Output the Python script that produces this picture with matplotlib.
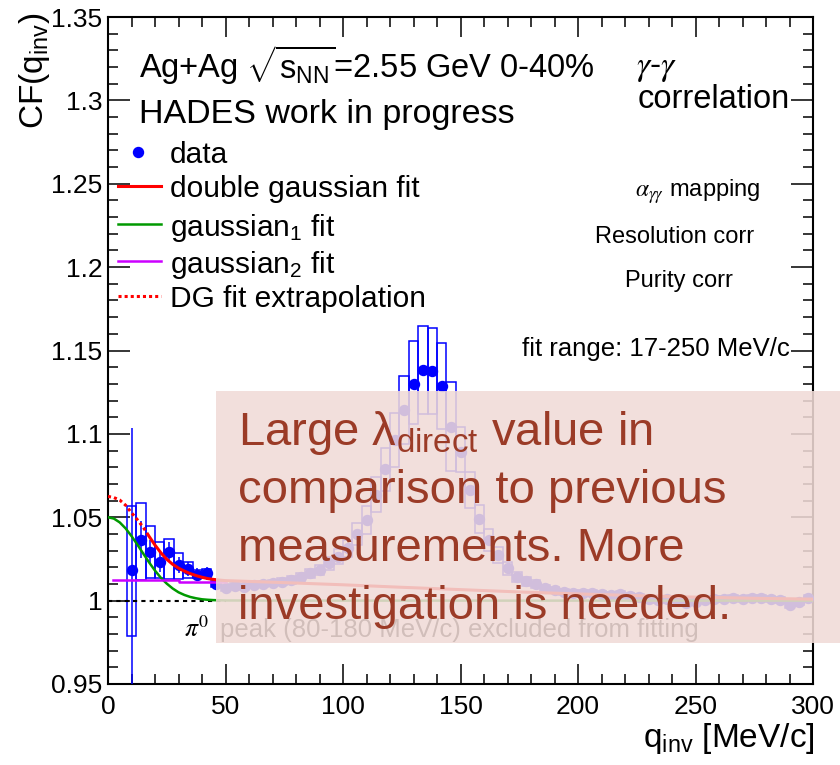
import numpy as np
import matplotlib.pyplot as plt
from matplotlib.patches import Rectangle
from matplotlib.ticker import MultipleLocator

plt.rcParams['font.family'] = 'Liberation Sans'
plt.rcParams['mathtext.fontset'] = 'custom'
plt.rcParams['mathtext.rm'] = 'Liberation Sans'
plt.rcParams['mathtext.it'] = 'Liberation Sans:italic'
plt.rcParams['mathtext.bf'] = 'Liberation Sans:bold'

# bin centres [MeV/c]
q = np.array([10, 14, 18, 22, 26, 30, 34, 38, 42, 46,
              50, 54, 58, 62, 66, 70, 74, 78, 82, 86,
              90, 94, 98, 102, 106, 110, 114, 118, 122, 126,
              130, 134, 138, 142, 146, 150, 154, 158, 162, 166,
              170, 174, 178, 182, 186, 190, 194, 198, 202, 206,
              210, 214, 218, 222, 226, 230, 234, 238, 242, 246,
              250, 254, 258, 262, 266, 270, 274, 278, 282, 286,
              290, 294, 298])

# correlation function values
cf = np.array([1.0186, 1.0366, 1.0293, 1.0233, 1.0293, 1.0214, 1.0190, 1.0156, 1.0164, 1.0100,
               1.0078, 1.0085, 1.0082, 1.0092, 1.0098, 1.0105, 1.0113, 1.0124, 1.0143, 1.0164,
               1.0184, 1.0224, 1.0263, 1.0314, 1.0400, 1.0484, 1.0634, 1.0788, 1.0964, 1.1143,
               1.1302, 1.1384, 1.1378, 1.1285, 1.1043, 1.0893, 1.0664, 1.0488, 1.0364, 1.0273,
               1.0194, 1.0143, 1.0115, 1.0100, 1.0074, 1.0062, 1.0054, 1.0048, 1.0045, 1.0045,
               1.0038, 1.0035, 1.0042, 1.0030, 1.0022, 1.0012, 1.0006, 1.0008, 1.0002, 0.9988,
               0.9992, 1.0005, 1.0010, 1.0012, 1.0016, 1.0012, 1.0018, 1.0014, 1.0010, 1.0002,
               0.9976, 0.9990, 1.0014])

# statistical errors
stat = np.array([0.085, 0.011, 0.007, 0.006, 0.006, 0.005, 0.004, 0.004, 0.004, 0.003,
                 0.003, 0.003, 0.003, 0.003, 0.003, 0.003, 0.003, 0.003, 0.003, 0.003,
                 0.003, 0.003, 0.003, 0.003, 0.003, 0.003, 0.003, 0.003, 0.003, 0.003,
                 0.003, 0.003, 0.003, 0.003, 0.003, 0.003, 0.003, 0.003, 0.003, 0.003,
                 0.002, 0.002, 0.002, 0.002, 0.002, 0.002, 0.002, 0.002, 0.002, 0.002,
                 0.002, 0.002, 0.002, 0.002, 0.002, 0.002, 0.002, 0.002, 0.002, 0.002,
                 0.002, 0.002, 0.002, 0.002, 0.002, 0.002, 0.002, 0.002, 0.002, 0.002,
                 0.002, 0.002, 0.002])

# systematic errors (box below / above the point)
sys_dn = np.array([0.0398, 0.0242, 0.0159, 0.0099, 0.0163, 0.0082, 0.0055, 0.0021, 0.0029, 0.0020,
                   0.0018, 0.0018, 0.0018, 0.0019, 0.0019, 0.0020, 0.0021, 0.0022, 0.0025, 0.0028,
                   0.0032, 0.0038, 0.0045, 0.0052, 0.0068, 0.0082, 0.0105, 0.0130, 0.0160, 0.0205,
                   0.0245, 0.0262, 0.0258, 0.0255, 0.0265, 0.0120, 0.0110, 0.0085, 0.0065, 0.0050,
                   0.0040, 0.0030, 0.0025, 0.0022, 0.0020, 0.0018, 0.0018, 0.0018, 0.0018, 0.0018,
                   0.0018, 0.0018, 0.0018, 0.0018, 0.0018, 0.0018, 0.0018, 0.0018, 0.0018, 0.0018,
                   0.0018, 0.0018, 0.0018, 0.0018, 0.0018, 0.0018, 0.0018, 0.0018, 0.0018, 0.0018,
                   0.0018, 0.0018, 0.0018])
sys_up = np.array([0.0384, 0.0221, 0.0157, 0.0117, 0.0079, 0.0070, 0.0043, 0.0028, 0.0024, 0.0020,
                   0.0018, 0.0018, 0.0018, 0.0019, 0.0019, 0.0020, 0.0021, 0.0022, 0.0025, 0.0028,
                   0.0032, 0.0038, 0.0045, 0.0052, 0.0068, 0.0082, 0.0105, 0.0130, 0.0160, 0.0205,
                   0.0256, 0.0263, 0.0255, 0.0259, 0.0271, 0.0150, 0.0110, 0.0085, 0.0065, 0.0050,
                   0.0040, 0.0030, 0.0025, 0.0022, 0.0020, 0.0018, 0.0018, 0.0018, 0.0018, 0.0018,
                   0.0018, 0.0018, 0.0018, 0.0018, 0.0018, 0.0018, 0.0018, 0.0018, 0.0018, 0.0018,
                   0.0018, 0.0018, 0.0018, 0.0018, 0.0018, 0.0018, 0.0018, 0.0018, 0.0018, 0.0018,
                   0.0018, 0.0018, 0.0018])

# fit curves
q_fit = [0, 2.5, 5, 7.5, 10, 12.5, 15, 17.5, 20, 22.5, 25, 27.5, 30, 32.5, 35,
         37.5, 40, 42.5, 45, 47.5, 50, 75, 100, 125, 150, 175, 200, 225, 250, 275, 300]
dg_fit = [1.0625, 1.0618, 1.0603, 1.0572, 1.0527, 1.0485, 1.0440, 1.0385, 1.0333, 1.0287,
          1.0248, 1.0218, 1.0195, 1.0177, 1.0162, 1.0150, 1.0140, 1.0132, 1.0127, 1.0123,
          1.0120, 1.0108, 1.0095, 1.0080, 1.0066, 1.0052, 1.0040, 1.0030, 1.0021, 1.0014, 1.0009]
g1_fit = [1.0500, 1.0492, 1.0469, 1.0433, 1.0387, 1.0336, 1.0282, 1.0229, 1.0180, 1.0137,
          1.0102, 1.0073, 1.0050, 1.0034, 1.0022, 1.0014, 1.0008, 1.0005, 1.0003, 1.0002,
          1.0001, 1.0000, 1.0000, 1.0000, 1.0000, 1.0000, 1.0000, 1.0000, 1.0000, 1.0000, 1.0000]
g2_q = [2, 30, 50]
g2_fit = [1.0124, 1.0114, 1.0114]

W, H = 840, 765
def fx(x):
    return x / W
def fy(y):
    return 1 - y / H

fig = plt.figure(figsize=(8.4, 7.65), dpi=100)
ax = fig.add_axes([fx(108), fy(684), (813 - 108) / W, (684 - 17) / H])

blue = '#0000ff'
red = '#ff0000'
green = '#009900'
magenta = '#cc00ff'

# systematic boxes and data
ax.bar(q, sys_dn + sys_up, bottom=cf - sys_dn, width=4, fill=False,
       edgecolor=blue, linewidth=1.1, zorder=2)
ax.errorbar(q, cf, yerr=stat, fmt='o', color=blue, ms=7.2, elinewidth=1.1,
            capsize=0, zorder=3)

# fits
qf = np.array(q_fit)
dg = np.array(dg_fit)
ax.plot([0, 50], [1, 1], color='black', lw=1.5, ls=(0, (2, 2)), zorder=2)
ax.plot(qf, g1_fit, color=green, lw=1.8, zorder=4)
ax.plot(g2_q, g2_fit, color=magenta, lw=1.8, drawstyle='steps-post', zorder=4)
ax.plot(qf[qf <= 17.5], dg[qf <= 17.5], color=red, lw=2.2, ls=(0, (1, 1)), zorder=5)
ax.plot(qf[qf >= 17.5], dg[qf >= 17.5], color=red, lw=2.2, zorder=5)

ax.set_xlim(0, 300)
ax.set_ylim(0.95, 1.35)
ax.xaxis.set_major_locator(MultipleLocator(50))
ax.xaxis.set_minor_locator(MultipleLocator(10))
ax.yaxis.set_major_locator(MultipleLocator(0.05))
ax.yaxis.set_minor_locator(MultipleLocator(0.01))
ax.yaxis.set_major_formatter(plt.FuncFormatter(lambda v, p: ('%g' % round(v, 2))))
ax.tick_params(which='both', direction='in', top=True, right=True, width=1.1)
ax.tick_params(axis='x', which='major', length=14.5, labelsize=19, pad=8)
ax.tick_params(axis='x', which='minor', length=7.5)
ax.tick_params(axis='y', which='major', length=15.5, labelsize=19, pad=4)
ax.tick_params(axis='y', which='minor', length=7.5)
for s in ax.spines.values():
    s.set_linewidth(1.5)

# axis titles
fig.text(fx(815), fy(747), r'q$_{\mathregular{inv}}$ [MeV/c]', fontsize=24,
         ha='right', va='baseline')
fig.text(fx(35), fy(13), r'CF(q$_{\mathregular{inv}}$)', fontsize=24,
         rotation=90, ha='center', va='top')

# header and legend
fig.text(fx(139), fy(78), r'Ag+Ag $\sqrt{\mathregular{s_{NN}}}$=2.55 GeV 0-40%',
         fontsize=23.5, va='baseline')
fig.text(fx(139), fy(123), 'HADES work in progress', fontsize=24.5, va='baseline')

leg_y = [152, 186, 224, 261, 296]
leg_txt = ['data', 'double gaussian fit', r'gaussian$_{\mathregular{1}}$ fit',
           r'gaussian$_{\mathregular{2}}$ fit', 'DG fit extrapolation']
fig.add_artist(plt.Line2D([fx(138)], [fy(leg_y[0])], marker='o', ms=7.2,
                          color=blue, ls='none'))
fig.add_artist(plt.Line2D([fx(118), fx(161)], [fy(leg_y[1])] * 2, color=red, lw=2.2))
fig.add_artist(plt.Line2D([fx(118), fx(161)], [fy(leg_y[2])] * 2, color=green, lw=1.8))
fig.add_artist(plt.Line2D([fx(118), fx(161)], [fy(leg_y[3])] * 2, color=magenta, lw=1.8))
fig.add_artist(plt.Line2D([fx(118), fx(161)], [fy(leg_y[4])] * 2, color=red, lw=2.2,
                          ls=(0, (1, 1))))
for yy, t in zip(leg_y, leg_txt):
    fig.text(fx(170), fy(yy), t, fontsize=21.5, va='center_baseline')

# right hand labels
fig.text(fx(636), fy(68), r'$\gamma$-$\gamma$', fontsize=24, va='center',
         math_fontfamily='stix')
fig.text(fx(790), fy(108), 'correlation', fontsize=23.5, ha='right', va='baseline')
fig.text(fx(760), fy(197), r'$\alpha_{\gamma\gamma}$ mapping', fontsize=17,
         ha='right', va='baseline', math_fontfamily='stix')
fig.text(fx(675), fy(243), 'Resolution corr', fontsize=17, ha='center', va='baseline')
fig.text(fx(679), fy(287), 'Purity corr', fontsize=17, ha='center', va='baseline')
fig.text(fx(790), fy(356), 'fit range: 17-250 MeV/c', fontsize=18.5, ha='right',
         va='baseline')
fig.text(fx(184), fy(637), r'$\pi^{0}$', fontsize=18.5, va='baseline',
         math_fontfamily='stix')
fig.text(fx(220), fy(637), 'peak (80-180 MeV/c) excluded from fitting',
         fontsize=18.5, va='baseline')

# comment box on top
fig.add_artist(Rectangle((fx(216), fy(643)), (840 - 216) / W, (643 - 391) / H,
                         transform=fig.transFigure, facecolor=(241 / 255, 219 / 255, 215 / 255),
                         alpha=0.87, edgecolor='none', zorder=10))
note = ['Large λ$_{\\mathregular{direct}}$ value in', 'comparison to previous',
        'measurements. More', 'investigation is needed.']
for i, t in enumerate(note):
    fig.text(fx(238), fy(445 + 58 * i), t, fontsize=34, color='#9b3b27',
             va='baseline', zorder=11)

fig.savefig('out.png', dpi=100)
